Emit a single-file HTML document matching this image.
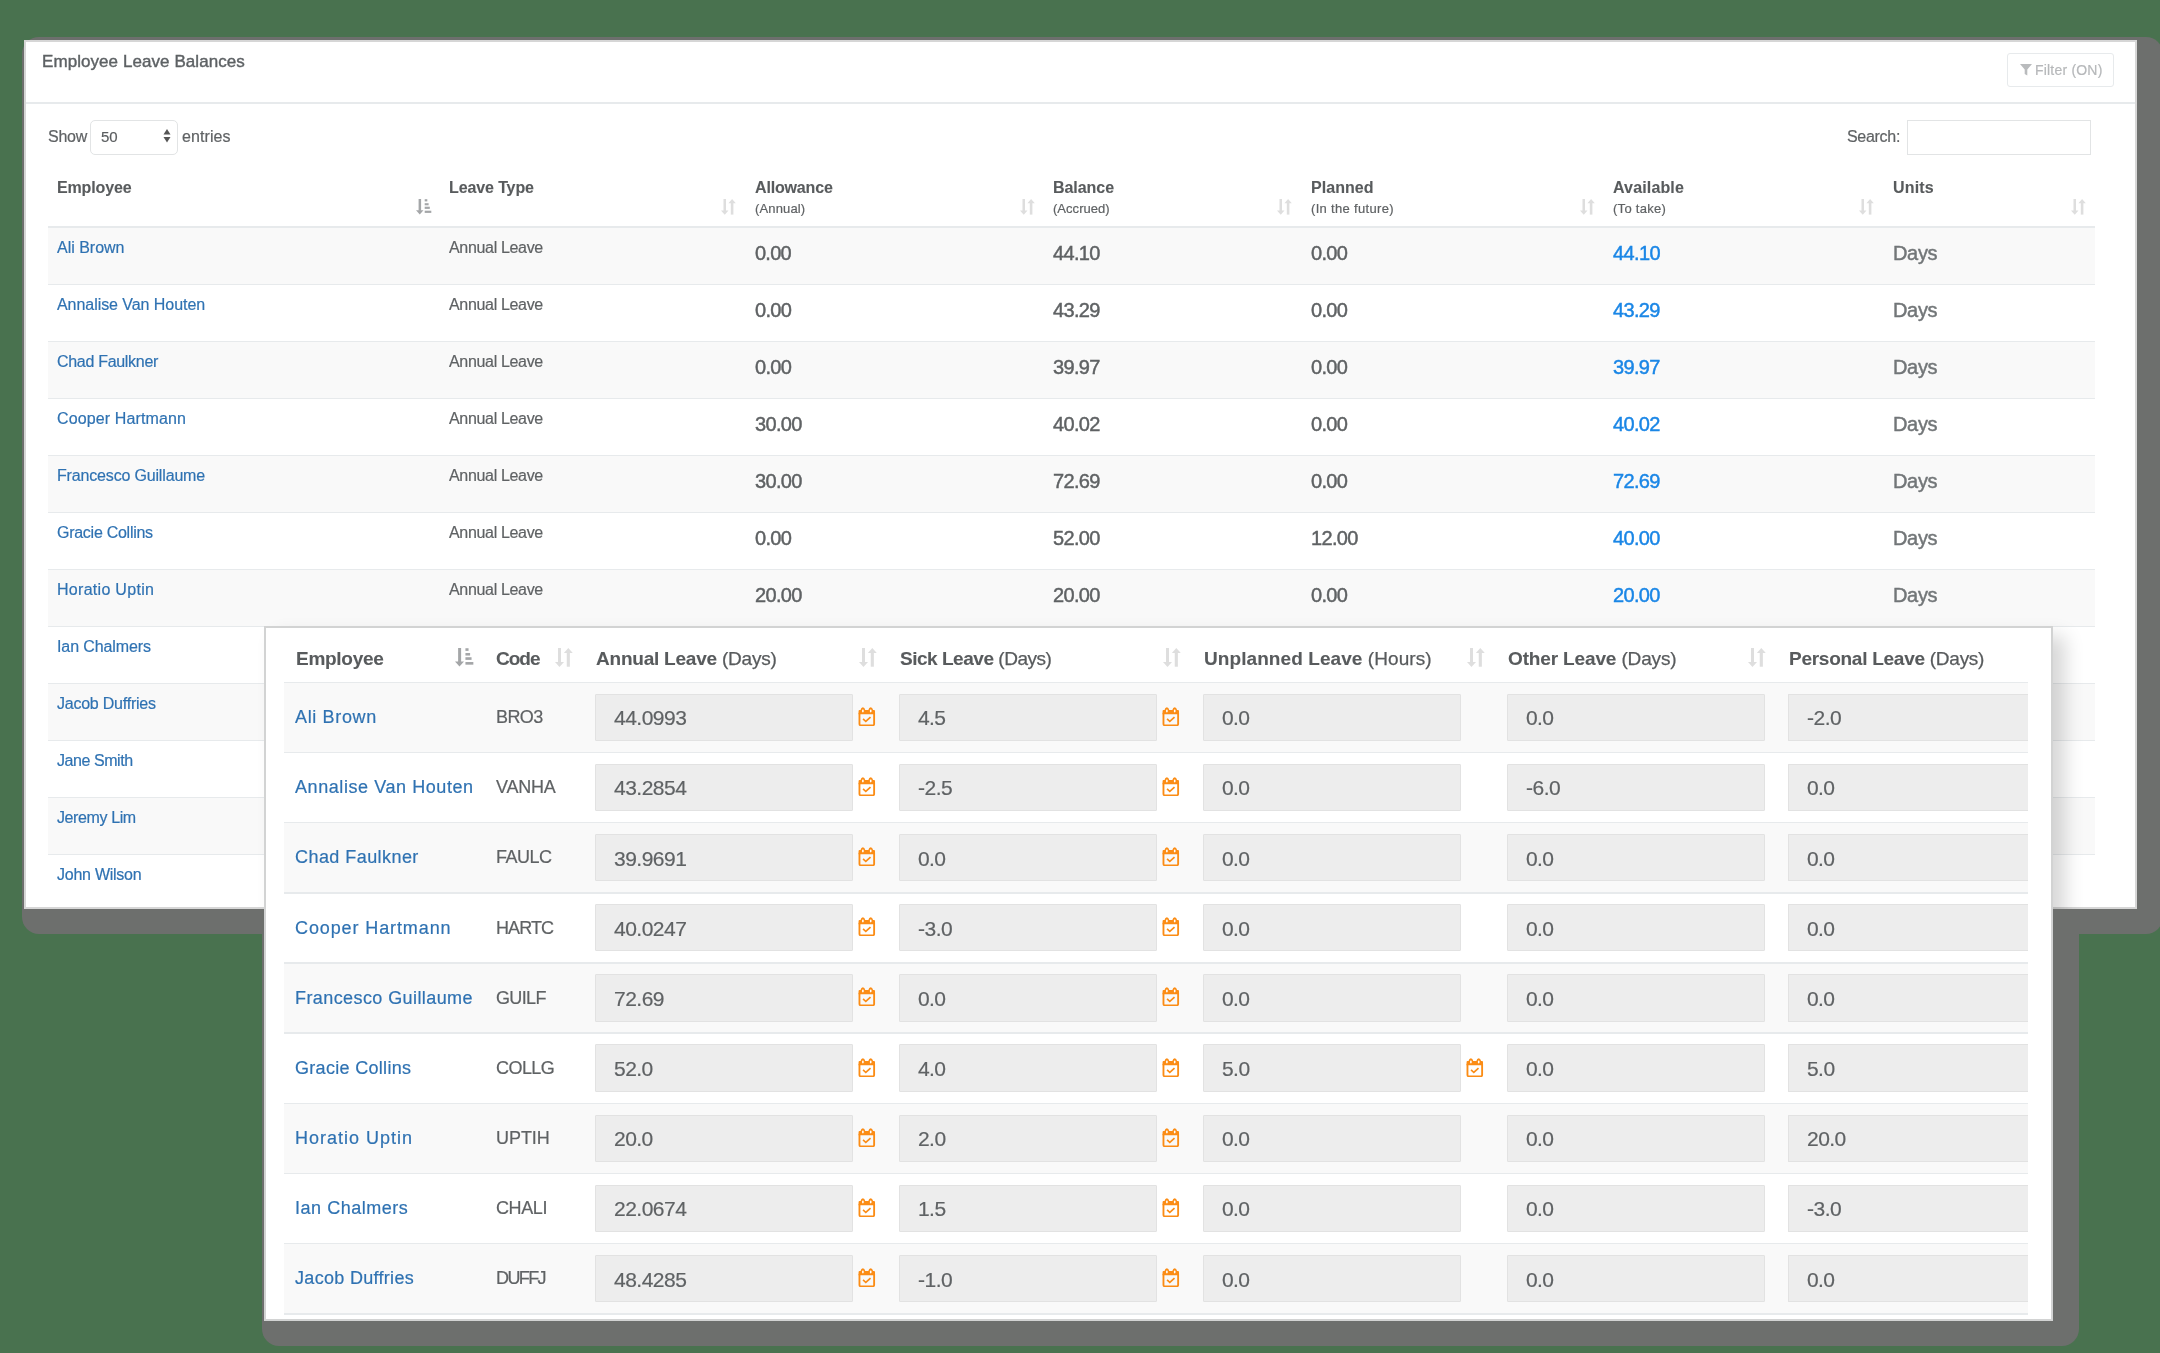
<!DOCTYPE html>
<html><head><meta charset="utf-8"><style>
html,body{margin:0;padding:0;width:2160px;height:1353px;overflow:hidden;background:#49724f;}
.t{position:absolute;white-space:nowrap;line-height:1;font-family:"Liberation Sans",sans-serif;will-change:transform;}
.r{font-weight:400;-webkit-text-stroke:0.2px currentColor;}
.r0{font-weight:400;}
.sb{font-weight:400;-webkit-text-stroke:0.45px currentColor;}
.sb2{font-weight:400;-webkit-text-stroke:0.4px currentColor;}
.b{font-weight:700;-webkit-text-stroke:0.1px currentColor;}
.b .n{font-weight:400;-webkit-text-stroke:0.25px currentColor;}
.q{position:absolute;}
</style></head><body>
<div class="q" style="left:262px;top:623px;width:1817px;height:723px;background:#6d6f6d;border-radius:17px;"></div>
<div class="q" style="left:22px;top:37px;width:2141px;height:897px;background:#6d6f6d;border-radius:17px;"></div>
<div class="q" style="left:24px;top:40px;width:2113px;height:869px;background:#fff;border:2px solid #d6d6d6;box-sizing:border-box;"></div>
<div class="q" style="left:26px;top:102px;width:2109px;height:2px;background:#e7eaec;"></div>
<div class="t sb2" id="t0" style="left:42px;top:53px;font-size:17px;color:#5d6164;letter-spacing:0.068px;">Employee Leave Balances</div>
<div class="q" style="left:2007px;top:53px;width:107px;height:34px;border:1px solid #e7eaec;border-radius:3px;box-sizing:border-box;"></div>
<svg class="q" style="left:2020px;top:64px" width="12" height="12" viewBox="0 0 12 12"><polygon points="0,0 12,0 7.3,5.5 7.3,11.5 4.7,10 4.7,5.5" fill="#b9bbbd"/></svg>
<div class="t r" id="t1" style="left:2035px;top:63px;font-size:14px;color:#b6b8ba;letter-spacing:0.200px;">Filter (ON)</div>
<div class="t r" id="t2" style="left:48px;top:129px;font-size:16px;color:#5f6264;letter-spacing:-0.267px;">Show</div>
<div class="q" style="left:90px;top:120px;width:88px;height:35px;border:1px solid #e2e4e5;border-radius:5px;box-sizing:border-box;"></div>
<div class="t r" id="t3" style="left:101px;top:129px;font-size:15px;color:#5b5e60;">50</div>
<svg class="q" style="left:163px;top:129px" width="8" height="14" viewBox="0 0 8 14"><polygon points="0.5,5.5 7.5,5.5 4,0" fill="#555"/><polygon points="0.5,8 7.5,8 4,13.5" fill="#555"/></svg>
<div class="t r" id="t4" style="left:182px;top:129px;font-size:16px;color:#5f6264;letter-spacing:0.100px;">entries</div>
<div class="t r" id="t5" style="left:1847px;top:129px;font-size:16px;color:#5f6264;letter-spacing:-0.300px;">Search:</div>
<div class="q" style="left:1907px;top:120px;width:184px;height:35px;border:1px solid #e2e4e5;box-sizing:border-box;"></div>
<div class="t b" id="t6" style="left:57px;top:180px;font-size:16px;color:#585b5d;letter-spacing:-0.143px;">Employee</div>
<div class="t b" id="t7" style="left:449px;top:180px;font-size:16px;color:#585b5d;letter-spacing:-0.111px;">Leave Type</div>
<div class="t b" id="t8" style="left:755px;top:180px;font-size:16px;color:#585b5d;letter-spacing:-0.162px;">Allowance</div>
<div class="t r" id="t9" style="left:755px;top:202px;font-size:13px;color:#5f6264;letter-spacing:0.143px;">(Annual)</div>
<div class="t b" id="t10" style="left:1053px;top:180px;font-size:16px;color:#585b5d;letter-spacing:-0.050px;">Balance</div>
<div class="t r" id="t11" style="left:1053px;top:202px;font-size:13px;color:#5f6264;letter-spacing:0.037px;">(Accrued)</div>
<div class="t b" id="t12" style="left:1311px;top:180px;font-size:16px;color:#585b5d;letter-spacing:0.050px;">Planned</div>
<div class="t r" id="t13" style="left:1311px;top:202px;font-size:13px;color:#5f6264;letter-spacing:0.329px;">(In the future)</div>
<div class="t b" id="t14" style="left:1613px;top:180px;font-size:16px;color:#585b5d;letter-spacing:0.150px;">Available</div>
<div class="t r" id="t15" style="left:1613px;top:202px;font-size:13px;color:#5f6264;letter-spacing:0.275px;">(To take)</div>
<div class="t b" id="t16" style="left:1893px;top:180px;font-size:16px;color:#585b5d;letter-spacing:0.175px;">Units</div>
<svg class="q" style="left:415.5px;top:199.3px" width="16.00" height="16.00" viewBox="0 0 16 16"><g fill="#a4a6a8"><rect x="2.6" y="0" width="2.5" height="11.8"/><polygon points="0,11.3 7.5,11.3 3.75,15.5"/><rect x="8.7" y="0.2" width="2.6" height="2.2"/><rect x="8.7" y="4.2" width="3.9" height="2.1"/><rect x="8.7" y="7.7" width="5.1" height="2.2"/><rect x="8.7" y="11.7" width="6.6" height="2.2"/></g></svg>
<svg class="q" style="left:720.5px;top:199px" width="15.00" height="16.00" viewBox="0 0 15 16"><g fill="#dedede"><rect x="2.5" y="0" width="2.5" height="12"/><polygon points="0,11.6 7.5,11.6 3.75,15.8"/><rect x="9.8" y="3.9" width="2.6" height="11.7"/><polygon points="7.4,4.2 14.8,4.2 11.1,0"/></g></svg>
<svg class="q" style="left:1019.5px;top:199px" width="15.00" height="16.00" viewBox="0 0 15 16"><g fill="#dedede"><rect x="2.5" y="0" width="2.5" height="12"/><polygon points="0,11.6 7.5,11.6 3.75,15.8"/><rect x="9.8" y="3.9" width="2.6" height="11.7"/><polygon points="7.4,4.2 14.8,4.2 11.1,0"/></g></svg>
<svg class="q" style="left:1277px;top:199px" width="15.00" height="16.00" viewBox="0 0 15 16"><g fill="#dedede"><rect x="2.5" y="0" width="2.5" height="12"/><polygon points="0,11.6 7.5,11.6 3.75,15.8"/><rect x="9.8" y="3.9" width="2.6" height="11.7"/><polygon points="7.4,4.2 14.8,4.2 11.1,0"/></g></svg>
<svg class="q" style="left:1580px;top:199px" width="15.00" height="16.00" viewBox="0 0 15 16"><g fill="#dedede"><rect x="2.5" y="0" width="2.5" height="12"/><polygon points="0,11.6 7.5,11.6 3.75,15.8"/><rect x="9.8" y="3.9" width="2.6" height="11.7"/><polygon points="7.4,4.2 14.8,4.2 11.1,0"/></g></svg>
<svg class="q" style="left:1859px;top:199px" width="15.00" height="16.00" viewBox="0 0 15 16"><g fill="#dedede"><rect x="2.5" y="0" width="2.5" height="12"/><polygon points="0,11.6 7.5,11.6 3.75,15.8"/><rect x="9.8" y="3.9" width="2.6" height="11.7"/><polygon points="7.4,4.2 14.8,4.2 11.1,0"/></g></svg>
<svg class="q" style="left:2071px;top:199px" width="15.00" height="16.00" viewBox="0 0 15 16"><g fill="#dedede"><rect x="2.5" y="0" width="2.5" height="12"/><polygon points="0,11.6 7.5,11.6 3.75,15.8"/><rect x="9.8" y="3.9" width="2.6" height="11.7"/><polygon points="7.4,4.2 14.8,4.2 11.1,0"/></g></svg>
<div class="q" style="left:48px;top:226px;width:2047px;height:2px;background:#e7eaec;"></div>
<div class="q" style="left:48px;top:228px;width:2047px;height:56px;background:#f9f9f9;"></div>
<div class="t r" id="t17" style="left:57px;top:240px;font-size:16px;color:#2f72b2;letter-spacing:-0.012px;">Ali Brown</div>
<div class="t r" id="t18" style="left:449px;top:240px;font-size:16px;color:#5f6264;letter-spacing:-0.327px;">Annual Leave</div>
<div class="t sb" id="t19" style="left:755px;top:243px;font-size:20px;color:#5f6264;letter-spacing:-0.767px;">0.00</div>
<div class="t sb" id="t20" style="left:1053px;top:243px;font-size:20px;color:#5f6264;letter-spacing:-0.669px;">44.10</div>
<div class="t sb" id="t21" style="left:1311px;top:243px;font-size:20px;color:#5f6264;letter-spacing:-0.695px;">0.00</div>
<div class="t sb" id="t22" style="left:1613px;top:243px;font-size:20px;color:#1a86e6;letter-spacing:-0.600px;">44.10</div>
<div class="t sb" id="t23" style="left:1893px;top:243px;font-size:20px;color:#727678;letter-spacing:-0.333px;">Days</div>
<div class="q" style="left:48px;top:284px;width:2047px;height:1px;background:#e7eaec;"></div>
<div class="t r" id="t24" style="left:57px;top:297px;font-size:16px;color:#2f72b2;letter-spacing:-0.056px;">Annalise Van Houten</div>
<div class="t r" id="t25" style="left:449px;top:297px;font-size:16px;color:#5f6264;letter-spacing:-0.327px;">Annual Leave</div>
<div class="t sb" id="t26" style="left:755px;top:300px;font-size:20px;color:#5f6264;letter-spacing:-0.695px;">0.00</div>
<div class="t sb" id="t27" style="left:1053px;top:300px;font-size:20px;color:#5f6264;letter-spacing:-0.669px;">43.29</div>
<div class="t sb" id="t28" style="left:1311px;top:300px;font-size:20px;color:#5f6264;letter-spacing:-0.695px;">0.00</div>
<div class="t sb" id="t29" style="left:1613px;top:300px;font-size:20px;color:#1a86e6;letter-spacing:-0.669px;">43.29</div>
<div class="t sb" id="t30" style="left:1893px;top:300px;font-size:20px;color:#727678;letter-spacing:-0.333px;">Days</div>
<div class="q" style="left:48px;top:342px;width:2047px;height:56px;background:#f9f9f9;"></div>
<div class="q" style="left:48px;top:341px;width:2047px;height:1px;background:#e7eaec;"></div>
<div class="t r" id="t31" style="left:57px;top:354px;font-size:16px;color:#2f72b2;letter-spacing:-0.300px;">Chad Faulkner</div>
<div class="t r" id="t32" style="left:449px;top:354px;font-size:16px;color:#5f6264;letter-spacing:-0.327px;">Annual Leave</div>
<div class="t sb" id="t33" style="left:755px;top:357px;font-size:20px;color:#5f6264;letter-spacing:-0.695px;">0.00</div>
<div class="t sb" id="t34" style="left:1053px;top:357px;font-size:20px;color:#5f6264;letter-spacing:-0.669px;">39.97</div>
<div class="t sb" id="t35" style="left:1311px;top:357px;font-size:20px;color:#5f6264;letter-spacing:-0.695px;">0.00</div>
<div class="t sb" id="t36" style="left:1613px;top:357px;font-size:20px;color:#1a86e6;letter-spacing:-0.669px;">39.97</div>
<div class="t sb" id="t37" style="left:1893px;top:357px;font-size:20px;color:#727678;letter-spacing:-0.333px;">Days</div>
<div class="q" style="left:48px;top:398px;width:2047px;height:1px;background:#e7eaec;"></div>
<div class="t r" id="t38" style="left:57px;top:411px;font-size:16px;color:#2f72b2;letter-spacing:0.129px;">Cooper Hartmann</div>
<div class="t r" id="t39" style="left:449px;top:411px;font-size:16px;color:#5f6264;letter-spacing:-0.327px;">Annual Leave</div>
<div class="t sb" id="t40" style="left:755px;top:414px;font-size:20px;color:#5f6264;letter-spacing:-0.669px;">30.00</div>
<div class="t sb" id="t41" style="left:1053px;top:414px;font-size:20px;color:#5f6264;letter-spacing:-0.669px;">40.02</div>
<div class="t sb" id="t42" style="left:1311px;top:414px;font-size:20px;color:#5f6264;letter-spacing:-0.695px;">0.00</div>
<div class="t sb" id="t43" style="left:1613px;top:414px;font-size:20px;color:#1a86e6;letter-spacing:-0.669px;">40.02</div>
<div class="t sb" id="t44" style="left:1893px;top:414px;font-size:20px;color:#727678;letter-spacing:-0.333px;">Days</div>
<div class="q" style="left:48px;top:456px;width:2047px;height:56px;background:#f9f9f9;"></div>
<div class="q" style="left:48px;top:455px;width:2047px;height:1px;background:#e7eaec;"></div>
<div class="t r" id="t45" style="left:57px;top:468px;font-size:16px;color:#2f72b2;letter-spacing:-0.167px;">Francesco Guillaume</div>
<div class="t r" id="t46" style="left:449px;top:468px;font-size:16px;color:#5f6264;letter-spacing:-0.327px;">Annual Leave</div>
<div class="t sb" id="t47" style="left:755px;top:471px;font-size:20px;color:#5f6264;letter-spacing:-0.669px;">30.00</div>
<div class="t sb" id="t48" style="left:1053px;top:471px;font-size:20px;color:#5f6264;letter-spacing:-0.655px;">72.69</div>
<div class="t sb" id="t49" style="left:1311px;top:471px;font-size:20px;color:#5f6264;letter-spacing:-0.695px;">0.00</div>
<div class="t sb" id="t50" style="left:1613px;top:471px;font-size:20px;color:#1a86e6;letter-spacing:-0.655px;">72.69</div>
<div class="t sb" id="t51" style="left:1893px;top:471px;font-size:20px;color:#727678;letter-spacing:-0.333px;">Days</div>
<div class="q" style="left:48px;top:512px;width:2047px;height:1px;background:#e7eaec;"></div>
<div class="t r" id="t52" style="left:57px;top:525px;font-size:16px;color:#2f72b2;letter-spacing:-0.269px;">Gracie Collins</div>
<div class="t r" id="t53" style="left:449px;top:525px;font-size:16px;color:#5f6264;letter-spacing:-0.327px;">Annual Leave</div>
<div class="t sb" id="t54" style="left:755px;top:528px;font-size:20px;color:#5f6264;letter-spacing:-0.695px;">0.00</div>
<div class="t sb" id="t55" style="left:1053px;top:528px;font-size:20px;color:#5f6264;letter-spacing:-0.669px;">52.00</div>
<div class="t sb" id="t56" style="left:1311px;top:528px;font-size:20px;color:#5f6264;letter-spacing:-0.655px;">12.00</div>
<div class="t sb" id="t57" style="left:1613px;top:528px;font-size:20px;color:#1a86e6;letter-spacing:-0.669px;">40.00</div>
<div class="t sb" id="t58" style="left:1893px;top:528px;font-size:20px;color:#727678;letter-spacing:-0.333px;">Days</div>
<div class="q" style="left:48px;top:570px;width:2047px;height:56px;background:#f9f9f9;"></div>
<div class="q" style="left:48px;top:569px;width:2047px;height:1px;background:#e7eaec;"></div>
<div class="t r" id="t59" style="left:57px;top:582px;font-size:16px;color:#2f72b2;letter-spacing:0.292px;">Horatio Uptin</div>
<div class="t r" id="t60" style="left:449px;top:582px;font-size:16px;color:#5f6264;letter-spacing:-0.327px;">Annual Leave</div>
<div class="t sb" id="t61" style="left:755px;top:585px;font-size:20px;color:#5f6264;letter-spacing:-0.655px;">20.00</div>
<div class="t sb" id="t62" style="left:1053px;top:585px;font-size:20px;color:#5f6264;letter-spacing:-0.655px;">20.00</div>
<div class="t sb" id="t63" style="left:1311px;top:585px;font-size:20px;color:#5f6264;letter-spacing:-0.695px;">0.00</div>
<div class="t sb" id="t64" style="left:1613px;top:585px;font-size:20px;color:#1a86e6;letter-spacing:-0.655px;">20.00</div>
<div class="t sb" id="t65" style="left:1893px;top:585px;font-size:20px;color:#727678;letter-spacing:-0.333px;">Days</div>
<div class="q" style="left:48px;top:626px;width:2047px;height:1px;background:#e7eaec;"></div>
<div class="t r" id="t66" style="left:57px;top:639px;font-size:16px;color:#2f72b2;letter-spacing:-0.100px;">Ian Chalmers</div>
<div class="q" style="left:48px;top:684px;width:2047px;height:56px;background:#f9f9f9;"></div>
<div class="q" style="left:48px;top:683px;width:2047px;height:1px;background:#e7eaec;"></div>
<div class="t r" id="t67" style="left:57px;top:696px;font-size:16px;color:#2f72b2;letter-spacing:-0.231px;">Jacob Duffries</div>
<div class="q" style="left:48px;top:740px;width:2047px;height:1px;background:#e7eaec;"></div>
<div class="t r" id="t68" style="left:57px;top:753px;font-size:16px;color:#2f72b2;letter-spacing:-0.444px;">Jane Smith</div>
<div class="q" style="left:48px;top:798px;width:2047px;height:56px;background:#f9f9f9;"></div>
<div class="q" style="left:48px;top:797px;width:2047px;height:1px;background:#e7eaec;"></div>
<div class="t r" id="t69" style="left:57px;top:810px;font-size:16px;color:#2f72b2;letter-spacing:-0.389px;">Jeremy Lim</div>
<div class="q" style="left:48px;top:854px;width:2047px;height:1px;background:#e7eaec;"></div>
<div class="t r" id="t70" style="left:57px;top:867px;font-size:16px;color:#2f72b2;letter-spacing:-0.250px;">John Wilson</div>
<div class="q" style="left:24px;top:40px;width:2113px;height:869px;overflow:hidden"><div class="q" style="left:240px;top:586px;width:1789px;height:695px;box-shadow:12px 10px 18px rgba(0,0,0,0.16);"></div></div>
<div class="q" style="left:264px;top:626px;width:1789px;height:695px;background:#fff;border:2px solid #d2d3d3;box-sizing:border-box;"></div>
<div class="t b" id="t71" style="left:296px;top:649px;font-size:19px;color:#585b5d;letter-spacing:-0.286px;">Employee</div>
<div class="t b" id="t72" style="left:496px;top:649px;font-size:19px;color:#585b5d;letter-spacing:-1.000px;">Code</div>
<div class="t b" id="t73" style="left:596px;top:649px;font-size:19px;color:#585b5d;letter-spacing:-0.222px;">Annual Leave <span class="n">(Days)</span></div>
<div class="t b" id="t74" style="left:900px;top:649px;font-size:19px;color:#585b5d;letter-spacing:-0.475px;">Sick Leave <span class="n">(Days)</span></div>
<div class="t b" id="t75" style="left:1204px;top:649px;font-size:19px;color:#585b5d;letter-spacing:0.077px;">Unplanned Leave <span class="n">(Hours)</span></div>
<div class="t b" id="t76" style="left:1508px;top:649px;font-size:19px;color:#585b5d;letter-spacing:-0.141px;">Other Leave <span class="n">(Days)</span></div>
<div class="t b" id="t77" style="left:1789px;top:649px;font-size:19px;color:#585b5d;letter-spacing:-0.260px;">Personal Leave <span class="n">(Days)</span></div>
<svg class="q" style="left:455px;top:648.2px" width="19.20" height="19.20" viewBox="0 0 16 16"><g fill="#a4a6a8"><rect x="2.6" y="0" width="2.5" height="11.8"/><polygon points="0,11.3 7.5,11.3 3.75,15.5"/><rect x="8.7" y="0.2" width="2.6" height="2.2"/><rect x="8.7" y="4.2" width="3.9" height="2.1"/><rect x="8.7" y="7.7" width="5.1" height="2.2"/><rect x="8.7" y="11.7" width="6.6" height="2.2"/></g></svg>
<svg class="q" style="left:555.4px;top:648.3px" width="18.00" height="19.20" viewBox="0 0 15 16"><g fill="#dedede"><rect x="2.5" y="0" width="2.5" height="12"/><polygon points="0,11.6 7.5,11.6 3.75,15.8"/><rect x="9.8" y="3.9" width="2.6" height="11.7"/><polygon points="7.4,4.2 14.8,4.2 11.1,0"/></g></svg>
<svg class="q" style="left:859px;top:648.3px" width="18.00" height="19.20" viewBox="0 0 15 16"><g fill="#dedede"><rect x="2.5" y="0" width="2.5" height="12"/><polygon points="0,11.6 7.5,11.6 3.75,15.8"/><rect x="9.8" y="3.9" width="2.6" height="11.7"/><polygon points="7.4,4.2 14.8,4.2 11.1,0"/></g></svg>
<svg class="q" style="left:1163px;top:648.3px" width="18.00" height="19.20" viewBox="0 0 15 16"><g fill="#dedede"><rect x="2.5" y="0" width="2.5" height="12"/><polygon points="0,11.6 7.5,11.6 3.75,15.8"/><rect x="9.8" y="3.9" width="2.6" height="11.7"/><polygon points="7.4,4.2 14.8,4.2 11.1,0"/></g></svg>
<svg class="q" style="left:1467px;top:648.3px" width="18.00" height="19.20" viewBox="0 0 15 16"><g fill="#dedede"><rect x="2.5" y="0" width="2.5" height="12"/><polygon points="0,11.6 7.5,11.6 3.75,15.8"/><rect x="9.8" y="3.9" width="2.6" height="11.7"/><polygon points="7.4,4.2 14.8,4.2 11.1,0"/></g></svg>
<svg class="q" style="left:1748px;top:648.3px" width="18.00" height="19.20" viewBox="0 0 15 16"><g fill="#dedede"><rect x="2.5" y="0" width="2.5" height="12"/><polygon points="0,11.6 7.5,11.6 3.75,15.8"/><rect x="9.8" y="3.9" width="2.6" height="11.7"/><polygon points="7.4,4.2 14.8,4.2 11.1,0"/></g></svg>
<div class="q" style="left:284px;top:682px;width:1744px;height:1px;background:#e7eaec;"></div>
<div class="q" style="left:284px;top:683px;width:1744px;height:69px;background:#f9f9f9;"></div>
<div class="q" style="left:284px;top:752px;width:1744px;height:1px;background:#e7eaec;"></div>
<div class="t r" id="t78" style="left:295px;top:708px;font-size:18px;color:#2f72b2;letter-spacing:0.650px;">Ali Brown</div>
<div class="t r" id="t79" style="left:496px;top:708px;font-size:18px;color:#5f6264;letter-spacing:-0.567px;">BRO3</div>
<div class="q" style="left:595px;top:694px;width:258px;height:47px;background:#ededed;border:1px solid #e2e2e2;border-radius:1px;box-sizing:border-box;"></div>
<div class="t r" id="t80" style="left:614px;top:707px;font-size:21px;color:#5f6264;letter-spacing:-0.500px;">44.0993</div>
<div class="q" style="left:899px;top:694px;width:258px;height:47px;background:#ededed;border:1px solid #e2e2e2;border-radius:1px;box-sizing:border-box;"></div>
<div class="t r" id="t81" style="left:918px;top:707px;font-size:21px;color:#5f6264;letter-spacing:-0.584px;">4.5</div>
<div class="q" style="left:1203px;top:694px;width:258px;height:47px;background:#ededed;border:1px solid #e2e2e2;border-radius:1px;box-sizing:border-box;"></div>
<div class="t r" id="t82" style="left:1222px;top:707px;font-size:21px;color:#5f6264;letter-spacing:-0.584px;">0.0</div>
<div class="q" style="left:1507px;top:694px;width:258px;height:47px;background:#ededed;border:1px solid #e2e2e2;border-radius:1px;box-sizing:border-box;"></div>
<div class="t r" id="t83" style="left:1526px;top:707px;font-size:21px;color:#5f6264;letter-spacing:-0.584px;">0.0</div>
<div class="q" style="left:1788px;top:694px;width:240px;height:47px;background:#ededed;border:1px solid #e2e2e2;border-radius:1px;box-sizing:border-box;border-right:none;border-radius:1px 0 0 1px;"></div>
<div class="t r" id="t84" style="left:1807px;top:707px;font-size:21px;color:#5f6264;letter-spacing:-0.470px;">-2.0</div>
<svg class="q" style="left:858px;top:707px" width="17.6" height="19.3" viewBox="0 0 18 20" preserveAspectRatio="none"><g fill="none" stroke="#fb8c15" stroke-width="1.9"><path d="M1.5,6 V17.5 Q1.5,19 3,19 H15 Q16.5,19 16.5,17.5 V6"/><polyline points="5.2,12.3 8,15 12.8,10.6" stroke-width="1.7"/></g><path d="M0.6,4.2 Q0.6,3.2 1.6,3.2 H2.6 Q3.2,0.2 5,0.2 Q6.8,0.2 7.4,3.2 H10.6 Q11.2,0.2 13,0.2 Q14.8,0.2 15.4,3.2 H16.4 Q17.4,3.2 17.4,4.2 V7.4 H0.6 Z" fill="#fb8c15"/><ellipse cx="5" cy="4.1" rx="0.9" ry="1.5" fill="#fff"/><ellipse cx="13" cy="4.1" rx="0.9" ry="1.5" fill="#fff"/></svg>
<svg class="q" style="left:1162px;top:707px" width="17.6" height="19.3" viewBox="0 0 18 20" preserveAspectRatio="none"><g fill="none" stroke="#fb8c15" stroke-width="1.9"><path d="M1.5,6 V17.5 Q1.5,19 3,19 H15 Q16.5,19 16.5,17.5 V6"/><polyline points="5.2,12.3 8,15 12.8,10.6" stroke-width="1.7"/></g><path d="M0.6,4.2 Q0.6,3.2 1.6,3.2 H2.6 Q3.2,0.2 5,0.2 Q6.8,0.2 7.4,3.2 H10.6 Q11.2,0.2 13,0.2 Q14.8,0.2 15.4,3.2 H16.4 Q17.4,3.2 17.4,4.2 V7.4 H0.6 Z" fill="#fb8c15"/><ellipse cx="5" cy="4.1" rx="0.9" ry="1.5" fill="#fff"/><ellipse cx="13" cy="4.1" rx="0.9" ry="1.5" fill="#fff"/></svg>
<div class="q" style="left:284px;top:822px;width:1744px;height:1px;background:#e7eaec;"></div>
<div class="t r" id="t85" style="left:295px;top:778px;font-size:18px;color:#2f72b2;letter-spacing:0.572px;">Annalise Van Houten</div>
<div class="t r" id="t86" style="left:496px;top:778px;font-size:18px;color:#5f6264;letter-spacing:-0.250px;">VANHA</div>
<div class="q" style="left:595px;top:764px;width:258px;height:47px;background:#ededed;border:1px solid #e2e2e2;border-radius:1px;box-sizing:border-box;"></div>
<div class="t r" id="t87" style="left:614px;top:777px;font-size:21px;color:#5f6264;letter-spacing:-0.510px;">43.2854</div>
<div class="q" style="left:899px;top:764px;width:258px;height:47px;background:#ededed;border:1px solid #e2e2e2;border-radius:1px;box-sizing:border-box;"></div>
<div class="t r" id="t88" style="left:918px;top:777px;font-size:21px;color:#5f6264;letter-spacing:-0.470px;">-2.5</div>
<div class="q" style="left:1203px;top:764px;width:258px;height:47px;background:#ededed;border:1px solid #e2e2e2;border-radius:1px;box-sizing:border-box;"></div>
<div class="t r" id="t89" style="left:1222px;top:777px;font-size:21px;color:#5f6264;letter-spacing:-0.584px;">0.0</div>
<div class="q" style="left:1507px;top:764px;width:258px;height:47px;background:#ededed;border:1px solid #e2e2e2;border-radius:1px;box-sizing:border-box;"></div>
<div class="t r" id="t90" style="left:1526px;top:777px;font-size:21px;color:#5f6264;letter-spacing:-0.470px;">-6.0</div>
<div class="q" style="left:1788px;top:764px;width:240px;height:47px;background:#ededed;border:1px solid #e2e2e2;border-radius:1px;box-sizing:border-box;border-right:none;border-radius:1px 0 0 1px;"></div>
<div class="t r" id="t91" style="left:1807px;top:777px;font-size:21px;color:#5f6264;letter-spacing:-0.584px;">0.0</div>
<svg class="q" style="left:858px;top:777px" width="17.6" height="19.3" viewBox="0 0 18 20" preserveAspectRatio="none"><g fill="none" stroke="#fb8c15" stroke-width="1.9"><path d="M1.5,6 V17.5 Q1.5,19 3,19 H15 Q16.5,19 16.5,17.5 V6"/><polyline points="5.2,12.3 8,15 12.8,10.6" stroke-width="1.7"/></g><path d="M0.6,4.2 Q0.6,3.2 1.6,3.2 H2.6 Q3.2,0.2 5,0.2 Q6.8,0.2 7.4,3.2 H10.6 Q11.2,0.2 13,0.2 Q14.8,0.2 15.4,3.2 H16.4 Q17.4,3.2 17.4,4.2 V7.4 H0.6 Z" fill="#fb8c15"/><ellipse cx="5" cy="4.1" rx="0.9" ry="1.5" fill="#fff"/><ellipse cx="13" cy="4.1" rx="0.9" ry="1.5" fill="#fff"/></svg>
<svg class="q" style="left:1162px;top:777px" width="17.6" height="19.3" viewBox="0 0 18 20" preserveAspectRatio="none"><g fill="none" stroke="#fb8c15" stroke-width="1.9"><path d="M1.5,6 V17.5 Q1.5,19 3,19 H15 Q16.5,19 16.5,17.5 V6"/><polyline points="5.2,12.3 8,15 12.8,10.6" stroke-width="1.7"/></g><path d="M0.6,4.2 Q0.6,3.2 1.6,3.2 H2.6 Q3.2,0.2 5,0.2 Q6.8,0.2 7.4,3.2 H10.6 Q11.2,0.2 13,0.2 Q14.8,0.2 15.4,3.2 H16.4 Q17.4,3.2 17.4,4.2 V7.4 H0.6 Z" fill="#fb8c15"/><ellipse cx="5" cy="4.1" rx="0.9" ry="1.5" fill="#fff"/><ellipse cx="13" cy="4.1" rx="0.9" ry="1.5" fill="#fff"/></svg>
<div class="q" style="left:284px;top:823px;width:1744px;height:69px;background:#f9f9f9;"></div>
<div class="q" style="left:284px;top:892px;width:1744px;height:2px;background:#e7eaec;"></div>
<div class="t r" id="t92" style="left:295px;top:848px;font-size:18px;color:#2f72b2;letter-spacing:0.442px;">Chad Faulkner</div>
<div class="t r" id="t93" style="left:496px;top:848px;font-size:18px;color:#5f6264;letter-spacing:-0.500px;">FAULC</div>
<div class="q" style="left:595px;top:834px;width:258px;height:47px;background:#ededed;border:1px solid #e2e2e2;border-radius:1px;box-sizing:border-box;"></div>
<div class="t r" id="t94" style="left:614px;top:848px;font-size:21px;color:#5f6264;letter-spacing:-0.500px;">39.9691</div>
<div class="q" style="left:899px;top:834px;width:258px;height:47px;background:#ededed;border:1px solid #e2e2e2;border-radius:1px;box-sizing:border-box;"></div>
<div class="t r" id="t95" style="left:918px;top:848px;font-size:21px;color:#5f6264;letter-spacing:-0.584px;">0.0</div>
<div class="q" style="left:1203px;top:834px;width:258px;height:47px;background:#ededed;border:1px solid #e2e2e2;border-radius:1px;box-sizing:border-box;"></div>
<div class="t r" id="t96" style="left:1222px;top:848px;font-size:21px;color:#5f6264;letter-spacing:-0.584px;">0.0</div>
<div class="q" style="left:1507px;top:834px;width:258px;height:47px;background:#ededed;border:1px solid #e2e2e2;border-radius:1px;box-sizing:border-box;"></div>
<div class="t r" id="t97" style="left:1526px;top:848px;font-size:21px;color:#5f6264;letter-spacing:-0.584px;">0.0</div>
<div class="q" style="left:1788px;top:834px;width:240px;height:47px;background:#ededed;border:1px solid #e2e2e2;border-radius:1px;box-sizing:border-box;border-right:none;border-radius:1px 0 0 1px;"></div>
<div class="t r" id="t98" style="left:1807px;top:848px;font-size:21px;color:#5f6264;letter-spacing:-0.584px;">0.0</div>
<svg class="q" style="left:858px;top:847px" width="17.6" height="19.3" viewBox="0 0 18 20" preserveAspectRatio="none"><g fill="none" stroke="#fb8c15" stroke-width="1.9"><path d="M1.5,6 V17.5 Q1.5,19 3,19 H15 Q16.5,19 16.5,17.5 V6"/><polyline points="5.2,12.3 8,15 12.8,10.6" stroke-width="1.7"/></g><path d="M0.6,4.2 Q0.6,3.2 1.6,3.2 H2.6 Q3.2,0.2 5,0.2 Q6.8,0.2 7.4,3.2 H10.6 Q11.2,0.2 13,0.2 Q14.8,0.2 15.4,3.2 H16.4 Q17.4,3.2 17.4,4.2 V7.4 H0.6 Z" fill="#fb8c15"/><ellipse cx="5" cy="4.1" rx="0.9" ry="1.5" fill="#fff"/><ellipse cx="13" cy="4.1" rx="0.9" ry="1.5" fill="#fff"/></svg>
<svg class="q" style="left:1162px;top:847px" width="17.6" height="19.3" viewBox="0 0 18 20" preserveAspectRatio="none"><g fill="none" stroke="#fb8c15" stroke-width="1.9"><path d="M1.5,6 V17.5 Q1.5,19 3,19 H15 Q16.5,19 16.5,17.5 V6"/><polyline points="5.2,12.3 8,15 12.8,10.6" stroke-width="1.7"/></g><path d="M0.6,4.2 Q0.6,3.2 1.6,3.2 H2.6 Q3.2,0.2 5,0.2 Q6.8,0.2 7.4,3.2 H10.6 Q11.2,0.2 13,0.2 Q14.8,0.2 15.4,3.2 H16.4 Q17.4,3.2 17.4,4.2 V7.4 H0.6 Z" fill="#fb8c15"/><ellipse cx="5" cy="4.1" rx="0.9" ry="1.5" fill="#fff"/><ellipse cx="13" cy="4.1" rx="0.9" ry="1.5" fill="#fff"/></svg>
<div class="q" style="left:284px;top:962px;width:1744px;height:2px;background:#e7eaec;"></div>
<div class="t r" id="t99" style="left:295px;top:919px;font-size:18px;color:#2f72b2;letter-spacing:0.893px;">Cooper Hartmann</div>
<div class="t r" id="t100" style="left:496px;top:919px;font-size:18px;color:#5f6264;letter-spacing:-0.925px;">HARTC</div>
<div class="q" style="left:595px;top:904px;width:258px;height:47px;background:#ededed;border:1px solid #e2e2e2;border-radius:1px;box-sizing:border-box;"></div>
<div class="t r" id="t101" style="left:614px;top:918px;font-size:21px;color:#5f6264;letter-spacing:-0.503px;">40.0247</div>
<div class="q" style="left:899px;top:904px;width:258px;height:47px;background:#ededed;border:1px solid #e2e2e2;border-radius:1px;box-sizing:border-box;"></div>
<div class="t r" id="t102" style="left:918px;top:918px;font-size:21px;color:#5f6264;letter-spacing:-0.470px;">-3.0</div>
<div class="q" style="left:1203px;top:904px;width:258px;height:47px;background:#ededed;border:1px solid #e2e2e2;border-radius:1px;box-sizing:border-box;"></div>
<div class="t r" id="t103" style="left:1222px;top:918px;font-size:21px;color:#5f6264;letter-spacing:-0.584px;">0.0</div>
<div class="q" style="left:1507px;top:904px;width:258px;height:47px;background:#ededed;border:1px solid #e2e2e2;border-radius:1px;box-sizing:border-box;"></div>
<div class="t r" id="t104" style="left:1526px;top:918px;font-size:21px;color:#5f6264;letter-spacing:-0.584px;">0.0</div>
<div class="q" style="left:1788px;top:904px;width:240px;height:47px;background:#ededed;border:1px solid #e2e2e2;border-radius:1px;box-sizing:border-box;border-right:none;border-radius:1px 0 0 1px;"></div>
<div class="t r" id="t105" style="left:1807px;top:918px;font-size:21px;color:#5f6264;letter-spacing:-0.584px;">0.0</div>
<svg class="q" style="left:858px;top:917px" width="17.6" height="19.3" viewBox="0 0 18 20" preserveAspectRatio="none"><g fill="none" stroke="#fb8c15" stroke-width="1.9"><path d="M1.5,6 V17.5 Q1.5,19 3,19 H15 Q16.5,19 16.5,17.5 V6"/><polyline points="5.2,12.3 8,15 12.8,10.6" stroke-width="1.7"/></g><path d="M0.6,4.2 Q0.6,3.2 1.6,3.2 H2.6 Q3.2,0.2 5,0.2 Q6.8,0.2 7.4,3.2 H10.6 Q11.2,0.2 13,0.2 Q14.8,0.2 15.4,3.2 H16.4 Q17.4,3.2 17.4,4.2 V7.4 H0.6 Z" fill="#fb8c15"/><ellipse cx="5" cy="4.1" rx="0.9" ry="1.5" fill="#fff"/><ellipse cx="13" cy="4.1" rx="0.9" ry="1.5" fill="#fff"/></svg>
<svg class="q" style="left:1162px;top:917px" width="17.6" height="19.3" viewBox="0 0 18 20" preserveAspectRatio="none"><g fill="none" stroke="#fb8c15" stroke-width="1.9"><path d="M1.5,6 V17.5 Q1.5,19 3,19 H15 Q16.5,19 16.5,17.5 V6"/><polyline points="5.2,12.3 8,15 12.8,10.6" stroke-width="1.7"/></g><path d="M0.6,4.2 Q0.6,3.2 1.6,3.2 H2.6 Q3.2,0.2 5,0.2 Q6.8,0.2 7.4,3.2 H10.6 Q11.2,0.2 13,0.2 Q14.8,0.2 15.4,3.2 H16.4 Q17.4,3.2 17.4,4.2 V7.4 H0.6 Z" fill="#fb8c15"/><ellipse cx="5" cy="4.1" rx="0.9" ry="1.5" fill="#fff"/><ellipse cx="13" cy="4.1" rx="0.9" ry="1.5" fill="#fff"/></svg>
<div class="q" style="left:284px;top:964px;width:1744px;height:68px;background:#f9f9f9;"></div>
<div class="q" style="left:284px;top:1032px;width:1744px;height:2px;background:#e7eaec;"></div>
<div class="t r" id="t106" style="left:295px;top:989px;font-size:18px;color:#2f72b2;letter-spacing:0.411px;">Francesco Guillaume</div>
<div class="t r" id="t107" style="left:496px;top:989px;font-size:18px;color:#5f6264;letter-spacing:-0.650px;">GUILF</div>
<div class="q" style="left:595px;top:974px;width:258px;height:48px;background:#ededed;border:1px solid #e2e2e2;border-radius:1px;box-sizing:border-box;"></div>
<div class="t r" id="t108" style="left:614px;top:988px;font-size:21px;color:#5f6264;letter-spacing:-0.513px;">72.69</div>
<div class="q" style="left:899px;top:974px;width:258px;height:48px;background:#ededed;border:1px solid #e2e2e2;border-radius:1px;box-sizing:border-box;"></div>
<div class="t r" id="t109" style="left:918px;top:988px;font-size:21px;color:#5f6264;letter-spacing:-0.584px;">0.0</div>
<div class="q" style="left:1203px;top:974px;width:258px;height:48px;background:#ededed;border:1px solid #e2e2e2;border-radius:1px;box-sizing:border-box;"></div>
<div class="t r" id="t110" style="left:1222px;top:988px;font-size:21px;color:#5f6264;letter-spacing:-0.584px;">0.0</div>
<div class="q" style="left:1507px;top:974px;width:258px;height:48px;background:#ededed;border:1px solid #e2e2e2;border-radius:1px;box-sizing:border-box;"></div>
<div class="t r" id="t111" style="left:1526px;top:988px;font-size:21px;color:#5f6264;letter-spacing:-0.584px;">0.0</div>
<div class="q" style="left:1788px;top:974px;width:240px;height:48px;background:#ededed;border:1px solid #e2e2e2;border-radius:1px;box-sizing:border-box;border-right:none;border-radius:1px 0 0 1px;"></div>
<div class="t r" id="t112" style="left:1807px;top:988px;font-size:21px;color:#5f6264;letter-spacing:-0.584px;">0.0</div>
<svg class="q" style="left:858px;top:987px" width="17.6" height="19.3" viewBox="0 0 18 20" preserveAspectRatio="none"><g fill="none" stroke="#fb8c15" stroke-width="1.9"><path d="M1.5,6 V17.5 Q1.5,19 3,19 H15 Q16.5,19 16.5,17.5 V6"/><polyline points="5.2,12.3 8,15 12.8,10.6" stroke-width="1.7"/></g><path d="M0.6,4.2 Q0.6,3.2 1.6,3.2 H2.6 Q3.2,0.2 5,0.2 Q6.8,0.2 7.4,3.2 H10.6 Q11.2,0.2 13,0.2 Q14.8,0.2 15.4,3.2 H16.4 Q17.4,3.2 17.4,4.2 V7.4 H0.6 Z" fill="#fb8c15"/><ellipse cx="5" cy="4.1" rx="0.9" ry="1.5" fill="#fff"/><ellipse cx="13" cy="4.1" rx="0.9" ry="1.5" fill="#fff"/></svg>
<svg class="q" style="left:1162px;top:987px" width="17.6" height="19.3" viewBox="0 0 18 20" preserveAspectRatio="none"><g fill="none" stroke="#fb8c15" stroke-width="1.9"><path d="M1.5,6 V17.5 Q1.5,19 3,19 H15 Q16.5,19 16.5,17.5 V6"/><polyline points="5.2,12.3 8,15 12.8,10.6" stroke-width="1.7"/></g><path d="M0.6,4.2 Q0.6,3.2 1.6,3.2 H2.6 Q3.2,0.2 5,0.2 Q6.8,0.2 7.4,3.2 H10.6 Q11.2,0.2 13,0.2 Q14.8,0.2 15.4,3.2 H16.4 Q17.4,3.2 17.4,4.2 V7.4 H0.6 Z" fill="#fb8c15"/><ellipse cx="5" cy="4.1" rx="0.9" ry="1.5" fill="#fff"/><ellipse cx="13" cy="4.1" rx="0.9" ry="1.5" fill="#fff"/></svg>
<div class="q" style="left:284px;top:1103px;width:1744px;height:1px;background:#e7eaec;"></div>
<div class="t r" id="t113" style="left:295px;top:1059px;font-size:18px;color:#2f72b2;letter-spacing:0.308px;">Gracie Collins</div>
<div class="t r" id="t114" style="left:496px;top:1059px;font-size:18px;color:#5f6264;letter-spacing:-0.550px;">COLLG</div>
<div class="q" style="left:595px;top:1044px;width:258px;height:48px;background:#ededed;border:1px solid #e2e2e2;border-radius:1px;box-sizing:border-box;"></div>
<div class="t r" id="t115" style="left:614px;top:1058px;font-size:21px;color:#5f6264;letter-spacing:-0.524px;">52.0</div>
<div class="q" style="left:899px;top:1044px;width:258px;height:48px;background:#ededed;border:1px solid #e2e2e2;border-radius:1px;box-sizing:border-box;"></div>
<div class="t r" id="t116" style="left:918px;top:1058px;font-size:21px;color:#5f6264;letter-spacing:-0.584px;">4.0</div>
<div class="q" style="left:1203px;top:1044px;width:258px;height:48px;background:#ededed;border:1px solid #e2e2e2;border-radius:1px;box-sizing:border-box;"></div>
<div class="t r" id="t117" style="left:1222px;top:1058px;font-size:21px;color:#5f6264;letter-spacing:-0.564px;">5.0</div>
<div class="q" style="left:1507px;top:1044px;width:258px;height:48px;background:#ededed;border:1px solid #e2e2e2;border-radius:1px;box-sizing:border-box;"></div>
<div class="t r" id="t118" style="left:1526px;top:1058px;font-size:21px;color:#5f6264;letter-spacing:-0.584px;">0.0</div>
<div class="q" style="left:1788px;top:1044px;width:240px;height:48px;background:#ededed;border:1px solid #e2e2e2;border-radius:1px;box-sizing:border-box;border-right:none;border-radius:1px 0 0 1px;"></div>
<div class="t r" id="t119" style="left:1807px;top:1058px;font-size:21px;color:#5f6264;letter-spacing:-0.564px;">5.0</div>
<svg class="q" style="left:858px;top:1058px" width="17.6" height="19.3" viewBox="0 0 18 20" preserveAspectRatio="none"><g fill="none" stroke="#fb8c15" stroke-width="1.9"><path d="M1.5,6 V17.5 Q1.5,19 3,19 H15 Q16.5,19 16.5,17.5 V6"/><polyline points="5.2,12.3 8,15 12.8,10.6" stroke-width="1.7"/></g><path d="M0.6,4.2 Q0.6,3.2 1.6,3.2 H2.6 Q3.2,0.2 5,0.2 Q6.8,0.2 7.4,3.2 H10.6 Q11.2,0.2 13,0.2 Q14.8,0.2 15.4,3.2 H16.4 Q17.4,3.2 17.4,4.2 V7.4 H0.6 Z" fill="#fb8c15"/><ellipse cx="5" cy="4.1" rx="0.9" ry="1.5" fill="#fff"/><ellipse cx="13" cy="4.1" rx="0.9" ry="1.5" fill="#fff"/></svg>
<svg class="q" style="left:1162px;top:1058px" width="17.6" height="19.3" viewBox="0 0 18 20" preserveAspectRatio="none"><g fill="none" stroke="#fb8c15" stroke-width="1.9"><path d="M1.5,6 V17.5 Q1.5,19 3,19 H15 Q16.5,19 16.5,17.5 V6"/><polyline points="5.2,12.3 8,15 12.8,10.6" stroke-width="1.7"/></g><path d="M0.6,4.2 Q0.6,3.2 1.6,3.2 H2.6 Q3.2,0.2 5,0.2 Q6.8,0.2 7.4,3.2 H10.6 Q11.2,0.2 13,0.2 Q14.8,0.2 15.4,3.2 H16.4 Q17.4,3.2 17.4,4.2 V7.4 H0.6 Z" fill="#fb8c15"/><ellipse cx="5" cy="4.1" rx="0.9" ry="1.5" fill="#fff"/><ellipse cx="13" cy="4.1" rx="0.9" ry="1.5" fill="#fff"/></svg>
<svg class="q" style="left:1466px;top:1058px" width="17.6" height="19.3" viewBox="0 0 18 20" preserveAspectRatio="none"><g fill="none" stroke="#fb8c15" stroke-width="1.9"><path d="M1.5,6 V17.5 Q1.5,19 3,19 H15 Q16.5,19 16.5,17.5 V6"/><polyline points="5.2,12.3 8,15 12.8,10.6" stroke-width="1.7"/></g><path d="M0.6,4.2 Q0.6,3.2 1.6,3.2 H2.6 Q3.2,0.2 5,0.2 Q6.8,0.2 7.4,3.2 H10.6 Q11.2,0.2 13,0.2 Q14.8,0.2 15.4,3.2 H16.4 Q17.4,3.2 17.4,4.2 V7.4 H0.6 Z" fill="#fb8c15"/><ellipse cx="5" cy="4.1" rx="0.9" ry="1.5" fill="#fff"/><ellipse cx="13" cy="4.1" rx="0.9" ry="1.5" fill="#fff"/></svg>
<div class="q" style="left:284px;top:1104px;width:1744px;height:69px;background:#f9f9f9;"></div>
<div class="q" style="left:284px;top:1173px;width:1744px;height:1px;background:#e7eaec;"></div>
<div class="t r" id="t120" style="left:295px;top:1129px;font-size:18px;color:#2f72b2;letter-spacing:1.000px;">Horatio Uptin</div>
<div class="t r" id="t121" style="left:496px;top:1129px;font-size:18px;color:#5f6264;letter-spacing:-0.050px;">UPTIH</div>
<div class="q" style="left:595px;top:1115px;width:258px;height:47px;background:#ededed;border:1px solid #e2e2e2;border-radius:1px;box-sizing:border-box;"></div>
<div class="t r" id="t122" style="left:614px;top:1128px;font-size:21px;color:#5f6264;letter-spacing:-0.524px;">20.0</div>
<div class="q" style="left:899px;top:1115px;width:258px;height:47px;background:#ededed;border:1px solid #e2e2e2;border-radius:1px;box-sizing:border-box;"></div>
<div class="t r" id="t123" style="left:918px;top:1128px;font-size:21px;color:#5f6264;letter-spacing:-0.564px;">2.0</div>
<div class="q" style="left:1203px;top:1115px;width:258px;height:47px;background:#ededed;border:1px solid #e2e2e2;border-radius:1px;box-sizing:border-box;"></div>
<div class="t r" id="t124" style="left:1222px;top:1128px;font-size:21px;color:#5f6264;letter-spacing:-0.584px;">0.0</div>
<div class="q" style="left:1507px;top:1115px;width:258px;height:47px;background:#ededed;border:1px solid #e2e2e2;border-radius:1px;box-sizing:border-box;"></div>
<div class="t r" id="t125" style="left:1526px;top:1128px;font-size:21px;color:#5f6264;letter-spacing:-0.584px;">0.0</div>
<div class="q" style="left:1788px;top:1115px;width:240px;height:47px;background:#ededed;border:1px solid #e2e2e2;border-radius:1px;box-sizing:border-box;border-right:none;border-radius:1px 0 0 1px;"></div>
<div class="t r" id="t126" style="left:1807px;top:1128px;font-size:21px;color:#5f6264;letter-spacing:-0.524px;">20.0</div>
<svg class="q" style="left:858px;top:1128px" width="17.6" height="19.3" viewBox="0 0 18 20" preserveAspectRatio="none"><g fill="none" stroke="#fb8c15" stroke-width="1.9"><path d="M1.5,6 V17.5 Q1.5,19 3,19 H15 Q16.5,19 16.5,17.5 V6"/><polyline points="5.2,12.3 8,15 12.8,10.6" stroke-width="1.7"/></g><path d="M0.6,4.2 Q0.6,3.2 1.6,3.2 H2.6 Q3.2,0.2 5,0.2 Q6.8,0.2 7.4,3.2 H10.6 Q11.2,0.2 13,0.2 Q14.8,0.2 15.4,3.2 H16.4 Q17.4,3.2 17.4,4.2 V7.4 H0.6 Z" fill="#fb8c15"/><ellipse cx="5" cy="4.1" rx="0.9" ry="1.5" fill="#fff"/><ellipse cx="13" cy="4.1" rx="0.9" ry="1.5" fill="#fff"/></svg>
<svg class="q" style="left:1162px;top:1128px" width="17.6" height="19.3" viewBox="0 0 18 20" preserveAspectRatio="none"><g fill="none" stroke="#fb8c15" stroke-width="1.9"><path d="M1.5,6 V17.5 Q1.5,19 3,19 H15 Q16.5,19 16.5,17.5 V6"/><polyline points="5.2,12.3 8,15 12.8,10.6" stroke-width="1.7"/></g><path d="M0.6,4.2 Q0.6,3.2 1.6,3.2 H2.6 Q3.2,0.2 5,0.2 Q6.8,0.2 7.4,3.2 H10.6 Q11.2,0.2 13,0.2 Q14.8,0.2 15.4,3.2 H16.4 Q17.4,3.2 17.4,4.2 V7.4 H0.6 Z" fill="#fb8c15"/><ellipse cx="5" cy="4.1" rx="0.9" ry="1.5" fill="#fff"/><ellipse cx="13" cy="4.1" rx="0.9" ry="1.5" fill="#fff"/></svg>
<div class="q" style="left:284px;top:1243px;width:1744px;height:1px;background:#e7eaec;"></div>
<div class="t r" id="t127" style="left:295px;top:1199px;font-size:18px;color:#2f72b2;letter-spacing:0.527px;">Ian Chalmers</div>
<div class="t r" id="t128" style="left:496px;top:1199px;font-size:18px;color:#5f6264;letter-spacing:-0.400px;">CHALI</div>
<div class="q" style="left:595px;top:1185px;width:258px;height:47px;background:#ededed;border:1px solid #e2e2e2;border-radius:1px;box-sizing:border-box;"></div>
<div class="t r" id="t129" style="left:614px;top:1198px;font-size:21px;color:#5f6264;letter-spacing:-0.503px;">22.0674</div>
<div class="q" style="left:899px;top:1185px;width:258px;height:47px;background:#ededed;border:1px solid #e2e2e2;border-radius:1px;box-sizing:border-box;"></div>
<div class="t r" id="t130" style="left:918px;top:1198px;font-size:21px;color:#5f6264;letter-spacing:-0.564px;">1.5</div>
<div class="q" style="left:1203px;top:1185px;width:258px;height:47px;background:#ededed;border:1px solid #e2e2e2;border-radius:1px;box-sizing:border-box;"></div>
<div class="t r" id="t131" style="left:1222px;top:1198px;font-size:21px;color:#5f6264;letter-spacing:-0.584px;">0.0</div>
<div class="q" style="left:1507px;top:1185px;width:258px;height:47px;background:#ededed;border:1px solid #e2e2e2;border-radius:1px;box-sizing:border-box;"></div>
<div class="t r" id="t132" style="left:1526px;top:1198px;font-size:21px;color:#5f6264;letter-spacing:-0.584px;">0.0</div>
<div class="q" style="left:1788px;top:1185px;width:240px;height:47px;background:#ededed;border:1px solid #e2e2e2;border-radius:1px;box-sizing:border-box;border-right:none;border-radius:1px 0 0 1px;"></div>
<div class="t r" id="t133" style="left:1807px;top:1198px;font-size:21px;color:#5f6264;letter-spacing:-0.470px;">-3.0</div>
<svg class="q" style="left:858px;top:1198px" width="17.6" height="19.3" viewBox="0 0 18 20" preserveAspectRatio="none"><g fill="none" stroke="#fb8c15" stroke-width="1.9"><path d="M1.5,6 V17.5 Q1.5,19 3,19 H15 Q16.5,19 16.5,17.5 V6"/><polyline points="5.2,12.3 8,15 12.8,10.6" stroke-width="1.7"/></g><path d="M0.6,4.2 Q0.6,3.2 1.6,3.2 H2.6 Q3.2,0.2 5,0.2 Q6.8,0.2 7.4,3.2 H10.6 Q11.2,0.2 13,0.2 Q14.8,0.2 15.4,3.2 H16.4 Q17.4,3.2 17.4,4.2 V7.4 H0.6 Z" fill="#fb8c15"/><ellipse cx="5" cy="4.1" rx="0.9" ry="1.5" fill="#fff"/><ellipse cx="13" cy="4.1" rx="0.9" ry="1.5" fill="#fff"/></svg>
<svg class="q" style="left:1162px;top:1198px" width="17.6" height="19.3" viewBox="0 0 18 20" preserveAspectRatio="none"><g fill="none" stroke="#fb8c15" stroke-width="1.9"><path d="M1.5,6 V17.5 Q1.5,19 3,19 H15 Q16.5,19 16.5,17.5 V6"/><polyline points="5.2,12.3 8,15 12.8,10.6" stroke-width="1.7"/></g><path d="M0.6,4.2 Q0.6,3.2 1.6,3.2 H2.6 Q3.2,0.2 5,0.2 Q6.8,0.2 7.4,3.2 H10.6 Q11.2,0.2 13,0.2 Q14.8,0.2 15.4,3.2 H16.4 Q17.4,3.2 17.4,4.2 V7.4 H0.6 Z" fill="#fb8c15"/><ellipse cx="5" cy="4.1" rx="0.9" ry="1.5" fill="#fff"/><ellipse cx="13" cy="4.1" rx="0.9" ry="1.5" fill="#fff"/></svg>
<div class="q" style="left:284px;top:1244px;width:1744px;height:69px;background:#f9f9f9;"></div>
<div class="q" style="left:284px;top:1313px;width:1744px;height:2px;background:#e7eaec;"></div>
<div class="t r" id="t134" style="left:295px;top:1269px;font-size:18px;color:#2f72b2;letter-spacing:0.308px;">Jacob Duffries</div>
<div class="t r" id="t135" style="left:496px;top:1269px;font-size:18px;color:#5f6264;letter-spacing:-1.600px;">DUFFJ</div>
<div class="q" style="left:595px;top:1255px;width:258px;height:47px;background:#ededed;border:1px solid #e2e2e2;border-radius:1px;box-sizing:border-box;"></div>
<div class="t r" id="t136" style="left:614px;top:1269px;font-size:21px;color:#5f6264;letter-spacing:-0.503px;">48.4285</div>
<div class="q" style="left:899px;top:1255px;width:258px;height:47px;background:#ededed;border:1px solid #e2e2e2;border-radius:1px;box-sizing:border-box;"></div>
<div class="t r" id="t137" style="left:918px;top:1269px;font-size:21px;color:#5f6264;letter-spacing:-0.470px;">-1.0</div>
<div class="q" style="left:1203px;top:1255px;width:258px;height:47px;background:#ededed;border:1px solid #e2e2e2;border-radius:1px;box-sizing:border-box;"></div>
<div class="t r" id="t138" style="left:1222px;top:1269px;font-size:21px;color:#5f6264;letter-spacing:-0.584px;">0.0</div>
<div class="q" style="left:1507px;top:1255px;width:258px;height:47px;background:#ededed;border:1px solid #e2e2e2;border-radius:1px;box-sizing:border-box;"></div>
<div class="t r" id="t139" style="left:1526px;top:1269px;font-size:21px;color:#5f6264;letter-spacing:-0.584px;">0.0</div>
<div class="q" style="left:1788px;top:1255px;width:240px;height:47px;background:#ededed;border:1px solid #e2e2e2;border-radius:1px;box-sizing:border-box;border-right:none;border-radius:1px 0 0 1px;"></div>
<div class="t r" id="t140" style="left:1807px;top:1269px;font-size:21px;color:#5f6264;letter-spacing:-0.584px;">0.0</div>
<svg class="q" style="left:858px;top:1268px" width="17.6" height="19.3" viewBox="0 0 18 20" preserveAspectRatio="none"><g fill="none" stroke="#fb8c15" stroke-width="1.9"><path d="M1.5,6 V17.5 Q1.5,19 3,19 H15 Q16.5,19 16.5,17.5 V6"/><polyline points="5.2,12.3 8,15 12.8,10.6" stroke-width="1.7"/></g><path d="M0.6,4.2 Q0.6,3.2 1.6,3.2 H2.6 Q3.2,0.2 5,0.2 Q6.8,0.2 7.4,3.2 H10.6 Q11.2,0.2 13,0.2 Q14.8,0.2 15.4,3.2 H16.4 Q17.4,3.2 17.4,4.2 V7.4 H0.6 Z" fill="#fb8c15"/><ellipse cx="5" cy="4.1" rx="0.9" ry="1.5" fill="#fff"/><ellipse cx="13" cy="4.1" rx="0.9" ry="1.5" fill="#fff"/></svg>
<svg class="q" style="left:1162px;top:1268px" width="17.6" height="19.3" viewBox="0 0 18 20" preserveAspectRatio="none"><g fill="none" stroke="#fb8c15" stroke-width="1.9"><path d="M1.5,6 V17.5 Q1.5,19 3,19 H15 Q16.5,19 16.5,17.5 V6"/><polyline points="5.2,12.3 8,15 12.8,10.6" stroke-width="1.7"/></g><path d="M0.6,4.2 Q0.6,3.2 1.6,3.2 H2.6 Q3.2,0.2 5,0.2 Q6.8,0.2 7.4,3.2 H10.6 Q11.2,0.2 13,0.2 Q14.8,0.2 15.4,3.2 H16.4 Q17.4,3.2 17.4,4.2 V7.4 H0.6 Z" fill="#fb8c15"/><ellipse cx="5" cy="4.1" rx="0.9" ry="1.5" fill="#fff"/><ellipse cx="13" cy="4.1" rx="0.9" ry="1.5" fill="#fff"/></svg>
</body></html>
